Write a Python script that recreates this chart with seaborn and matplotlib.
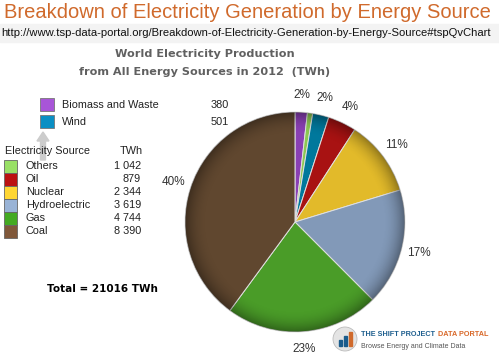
import numpy as np
import matplotlib
matplotlib.use("Agg")
import matplotlib.pyplot as plt
import matplotlib.patches as mpatches
import seaborn as sns

# slices clockwise from 12 o'clock
sources = ["Biomass and Waste", "Others (rest)", "Wind", "Oil", "Nuclear",
           "Hydroelectric", "Gas", "Coal"]
twh = [380, 162, 501, 879, 2344, 3619, 4744, 8390]
pie_colors = ["#8a40b4", "#8cc852", "#00789c", "#a81212", "#e2ba2a",
              "#8299b8", "#4a9c28", "#60472f"]

# legend table
legend_names = ["Others", "Oil", "Nuclear", "Hydroelectric", "Gas", "Coal"]
legend_values = ["1 042", "879", "2 344", "3 619", "4 744", "8 390"]
legend_colors = ["#99e066", "#bb1111", "#ffd633", "#99b3d6", "#44aa22", "#80583a"]
sub_names = ["Biomass and Waste", "Wind"]
sub_values = ["380", "501"]
sub_colors = ["#a855d8", "#0a8fc4"]
total_twh = 21016

sns.set_theme(style="white")
plt.rcParams["font.family"] = ["Liberation Sans", "DejaVu Sans"]

W, H = 499, 354
fig = plt.figure(figsize=(W / 100, H / 100), dpi=100)


def px(x, y):
    return x / W, 1 - y / H


# header
fig.text(*px(4, 13), "Breakdown of Electricity Generation by Energy Source",
         color="#d06a2c", fontsize=14.5, va="center", ha="left")
fig.patches.append(mpatches.Rectangle(px(0, 42), 1, 18 / H, transform=fig.transFigure,
                                      color="#f3f3f3", zorder=0))
fig.text(*px(1, 33), "http://www.tsp-data-portal.org/Breakdown-of-Electricity-Generation-by-Energy-Source#tspQvChart",
         color="#111111", fontsize=8.1, va="center", ha="left")
fig.text(*px(205, 54), "World Electricity Production", family="DejaVu Sans",
         color="#606060", fontsize=8.1, va="center", ha="center", fontweight="bold")
fig.text(*px(205, 72), "from All Energy Sources in 2012  (TWh)", family="DejaVu Sans",
         color="#606060", fontsize=8.1, va="center", ha="center", fontweight="bold")

# pie
cx, cy, r = 295, 222, 110
ax = fig.add_axes([(cx - r) / W, 1 - (cy + r) / H, 2 * r / W, 2 * r / H])


def pct_label(p):
    return "" if p < 1 else f"{p:.0f}%"


wedges, texts, autotexts = ax.pie(
    twh, colors=pie_colors, startangle=90, counterclock=False,
    autopct=pct_label, pctdistance=1.16, radius=1,
    wedgeprops=dict(edgecolor="#e0e0e0", linewidth=0.7),
    textprops=dict(color="#333333", fontsize=8.5))

# soft radial shading to mimic the 3D look
g = np.linspace(-1, 1, 300)
xx, yy = np.meshgrid(g, g)
rr = np.sqrt(xx ** 2 + yy ** 2)
shade = np.zeros((300, 300, 4))
shade[..., 3] = np.clip((rr - 0.8) / 0.2, 0, 1) ** 2 * 0.35
img = ax.imshow(shade, extent=[-1, 1, -1, 1], zorder=3)
img.set_clip_path(mpatches.Circle((0, 0), 1, transform=ax.transData))
ax.set_xlim(-1, 1)
ax.set_ylim(-1, 1)
ax.set_aspect("equal")
ax.axis("off")

# legend: sub items
for i, (n, v, c) in enumerate(zip(sub_names, sub_values, sub_colors)):
    y = 105 + i * 17
    fig.patches.append(mpatches.Rectangle(px(40, y + 6), 14 / W, 13 / H, transform=fig.transFigure,
                                          facecolor=c, edgecolor="#777777", lw=0.6))
    fig.text(*px(62, y), n, fontsize=7.8, color="#222222", va="center")
    fig.text(*px(229, y), v, fontsize=7.8, color="#222222", va="center", ha="right")

fig.patches.append(mpatches.FancyArrow(43 / W, 1 - 160 / H, 0, 28 / H, width=5 / W,
                                       head_width=12 / W, head_length=9 / H,
                                       transform=fig.transFigure, color="#cccccc",
                                       length_includes_head=True))

fig.text(*px(5, 151), "Electricity Source", fontsize=7.8, color="#222222", va="center")
fig.text(*px(143, 151), "TWh", fontsize=7.8, color="#222222", va="center", ha="right")
for i, (n, v, c) in enumerate(zip(legend_names, legend_values, legend_colors)):
    y = 166 + i * 13
    fig.patches.append(mpatches.Rectangle(px(4, y + 6.5), 13 / W, 12.5 / H, transform=fig.transFigure,
                                          facecolor=c, edgecolor="#666666", lw=0.6))
    fig.text(*px(26, y), n, fontsize=7.8, color="#222222", va="center")
    fig.text(*px(141, y), v, fontsize=7.8, color="#222222", va="center", ha="right")

fig.text(*px(47, 289), f"Total = {total_twh} TWh", family="DejaVu Sans",
         fontsize=7.5, fontweight="bold", color="black", va="center")

# logo
fig.patches.append(mpatches.Ellipse(px(345, 339), 24 / W, 24 / H, transform=fig.transFigure,
                                    facecolor="#e4e4e4", edgecolor="#bbbbbb", lw=0.6))
for bx, bh, bc in [(339, 6, "#1a5c8c"), (344, 10, "#1a5c8c"), (349, 14, "#d06a2c")]:
    fig.patches.append(mpatches.Rectangle(px(bx, 346), 3 / W, bh / H, transform=fig.transFigure,
                                          color=bc))
logo_font = ["Liberation Sans Narrow", "Liberation Sans"]
t1 = fig.text(*px(361, 334), "THE SHIFT PROJECT", fontsize=7.5, fontweight="bold",
              color="#1f5f8f", va="center", ha="left", family=logo_font)
t2 = fig.text(*px(437, 334), "DATA PORTAL", fontsize=7.5, fontweight="bold",
              color="#d9692a", va="center", ha="left", family=logo_font)
renderer = fig.canvas.get_renderer()
w1 = t1.get_window_extent(renderer).width
w2 = t2.get_window_extent(renderer).width
scale = min(1.0, 126 / (w1 + w2 + 3))
t1.set_fontsize(7.5 * scale)
t2.set_fontsize(7.5 * scale)
t2.set_position(px(361 + w1 * scale + 3, 334))
fig.text(*px(361, 346), "Browse Energy and Climate Data", fontsize=5,
         color="#555555", va="center")

fig.savefig("out.png", dpi=100)
